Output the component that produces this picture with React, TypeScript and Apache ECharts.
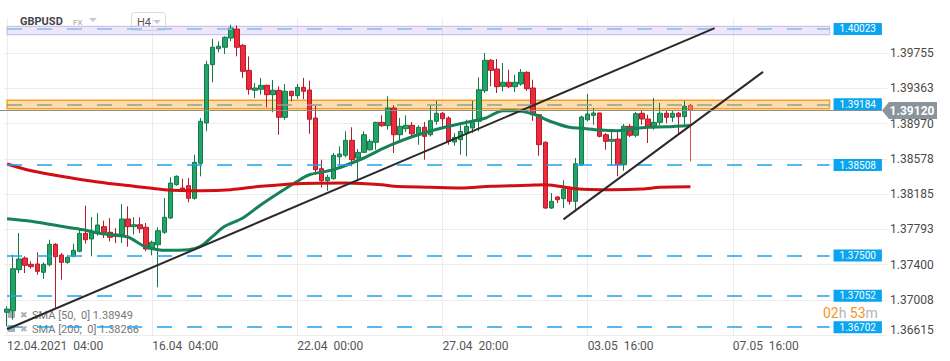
import React, { useEffect, useRef } from 'react';
import * as echarts from 'echarts';

// ---- axis ticks ----
const categoryCount = 146;
const xTickEvery = 24;
const xTickLabels = [
  '12.04.2021\u00a0\u00a004:00',
  '16.04\u00a0\u00a004:00',
  '22.04\u00a0\u00a000:00',
  '27.04\u00a0\u00a020:00',
  '03.05\u00a0\u00a016:00',
  '07.05\u00a0\u00a016:00',
];
const yTickLabels = ['1.36615', '1.37008', '1.37400', '1.37793', '1.38185', '1.38578', '1.38970', '1.39363', '1.39755'];
const yMin = 1.36615;
const yStep = 0.003925;
const yMax = 1.40145;

// ---- candles (H4, GBPUSD) ----
const opens = [
  1.36868, 1.36886, 1.37342, 1.37472, 1.37402, 1.37406, 1.37313, 1.37398, 1.37625, 1.37506,
  1.37424, 1.37491, 1.37547, 1.37747, 1.37684, 1.37751, 1.37821, 1.37759, 1.37740, 1.37732,
  1.37907, 1.37821, 1.37843, 1.37814, 1.37573, 1.37620, 1.37759, 1.37918, 1.38289, 1.38252,
  1.38277, 1.38137, 1.38527, 1.38976, 1.39625, 1.39803, 1.39819, 1.39922, 1.40022, 1.39841,
  1.39562, 1.39340, 1.39351, 1.39395, 1.39291, 1.39340, 1.39039, 1.39329, 1.39280, 1.39373,
  1.39343, 1.39031, 1.38467, 1.38333, 1.38355, 1.38600, 1.38616, 1.38783, 1.38586, 1.38649,
  1.38678, 1.38761, 1.38983, 1.38946, 1.39143, 1.38845, 1.38912, 1.38950, 1.38856, 1.38928,
  1.38845, 1.38995, 1.39084, 1.39031, 1.38764, 1.38790, 1.38864, 1.38920, 1.38995, 1.39335,
  1.39674, 1.39577, 1.39384, 1.39429, 1.39380, 1.39410, 1.39540, 1.39365, 1.39068, 1.38761,
  1.38029, 1.38152, 1.38133, 1.38252, 1.38104, 1.38511, 1.39012, 1.39061, 1.39087, 1.38845,
  1.38772, 1.38797, 1.38511, 1.38939, 1.38839, 1.39084, 1.39020, 1.38939, 1.38983, 1.39084,
  1.39039, 1.39084, 1.39046, 1.39173,
];
const closes = [
  1.36904, 1.37353, 1.37461, 1.37391, 1.37376, 1.37324, 1.37402, 1.37625, 1.37487, 1.37424,
  1.37480, 1.37558, 1.37747, 1.37676, 1.37770, 1.37840, 1.37759, 1.37703, 1.37714, 1.37907,
  1.37821, 1.37843, 1.37799, 1.37573, 1.37647, 1.37776, 1.37926, 1.38307, 1.38382, 1.38222,
  1.38137, 1.38538, 1.38995, 1.39625, 1.39819, 1.39830, 1.39930, 1.40033, 1.39819, 1.39551,
  1.39351, 1.39365, 1.39395, 1.39291, 1.39340, 1.39039, 1.39329, 1.39280, 1.39373, 1.39329,
  1.39017, 1.38456, 1.38333, 1.38371, 1.38616, 1.38630, 1.38783, 1.38567, 1.38649, 1.38845,
  1.38772, 1.38983, 1.38946, 1.39143, 1.38845, 1.38939, 1.38950, 1.38856, 1.38928, 1.38827,
  1.39001, 1.39084, 1.39023, 1.38772, 1.38816, 1.38883, 1.38939, 1.38995, 1.39346, 1.39674,
  1.39562, 1.39380, 1.39429, 1.39380, 1.39429, 1.39540, 1.39358, 1.39068, 1.38734, 1.38029,
  1.38104, 1.38122, 1.38241, 1.38104, 1.38522, 1.39042, 1.39076, 1.39087, 1.38827, 1.38772,
  1.38794, 1.38511, 1.38939, 1.38839, 1.39079, 1.39020, 1.38939, 1.38983, 1.39084, 1.39039,
  1.39084, 1.39046, 1.39162, 1.39120,
];
const lows = [
  1.36712, 1.36785, 1.37305, 1.37305, 1.37353, 1.37286, 1.37239, 1.37380, 1.36916, 1.37231,
  1.37409, 1.37480, 1.37536, 1.37636, 1.37491, 1.37721, 1.37695, 1.37658, 1.37639, 1.37639,
  1.37598, 1.37732, 1.37751, 1.37547, 1.37502, 1.37146, 1.37740, 1.37907, 1.38277, 1.38207,
  1.38093, 1.38122, 1.38382, 1.38883, 1.39429, 1.39763, 1.39744, 1.39885, 1.39718, 1.39477,
  1.39291, 1.39254, 1.39291, 1.39150, 1.39095, 1.38845, 1.39012, 1.39217, 1.39243, 1.39243,
  1.38856, 1.38400, 1.38260, 1.38222, 1.38344, 1.38511, 1.38594, 1.38493, 1.38326, 1.38642,
  1.38667, 1.38678, 1.38934, 1.38901, 1.38642, 1.38772, 1.38875, 1.38820, 1.38734, 1.38567,
  1.38827, 1.38957, 1.38920, 1.38734, 1.38723, 1.38623, 1.38605, 1.38864, 1.38883, 1.39310,
  1.39384, 1.39310, 1.39329, 1.39365, 1.39321, 1.39391, 1.39335, 1.39001, 1.38611, 1.38018,
  1.38018, 1.38085, 1.38029, 1.38066, 1.37992, 1.38500, 1.38995, 1.38957, 1.38816, 1.38678,
  1.38500, 1.38382, 1.38444, 1.38820, 1.38816, 1.38957, 1.38753, 1.38901, 1.38950, 1.38972,
  1.38987, 1.38864, 1.38957, 1.38549,
];
const highs = [
  1.36935, 1.37509, 1.37751, 1.37491, 1.37436, 1.37536, 1.37424, 1.37676, 1.37639, 1.37528,
  1.37502, 1.37632, 1.37806, 1.38055, 1.37929, 1.37973, 1.37888, 1.37918, 1.37806, 1.38074,
  1.38048, 1.37926, 1.37926, 1.37862, 1.37665, 1.37814, 1.38140, 1.38371, 1.38393, 1.38355,
  1.38363, 1.38623, 1.39031, 1.39669, 1.39914, 1.39885, 1.39941, 1.40070, 1.40063, 1.39855,
  1.39718, 1.39421, 1.39477, 1.39402, 1.39454, 1.39384, 1.39410, 1.39335, 1.39410, 1.39477,
  1.39447, 1.39173, 1.38567, 1.38400, 1.38642, 1.38716, 1.38883, 1.38928, 1.38686, 1.38883,
  1.38797, 1.38990, 1.39061, 1.39273, 1.39173, 1.39031, 1.39061, 1.38987, 1.38950, 1.38987,
  1.39173, 1.39224, 1.39098, 1.39050, 1.38864, 1.38950, 1.39012, 1.39224, 1.39484, 1.39755,
  1.39688, 1.39688, 1.39644, 1.39569, 1.39513, 1.39577, 1.39551, 1.39458, 1.39076, 1.38772,
  1.38196, 1.38159, 1.38338, 1.38271, 1.38586, 1.39057, 1.39298, 1.39143, 1.39090, 1.38864,
  1.38901, 1.38901, 1.38964, 1.38964, 1.39098, 1.39113, 1.39068, 1.39254, 1.39198, 1.39120,
  1.39113, 1.39098, 1.39224, 1.39187,
];

// ---- moving averages ----
const sma50Index = [0, 4, 10, 13, 15, 18, 20, 22, 23, 25, 26, 30, 32, 34, 36, 39, 42, 48, 50, 54, 59, 62, 64, 68, 73, 79, 82, 84, 87, 90, 93, 95, 98, 101, 104, 106, 109, 113];
const sma50Values = [1.3791, 1.37881, 1.37814, 1.37781, 1.37751, 1.37725, 1.37706, 1.37628, 1.37592, 1.37565, 1.37558, 1.37565, 1.37603, 1.37714, 1.37825, 1.37918, 1.38066, 1.38326, 1.384, 1.38456, 1.38586, 1.38687, 1.38747, 1.38845, 1.38939, 1.39028, 1.39113, 1.39113, 1.39076, 1.3899, 1.38928, 1.38917, 1.38898, 1.3889, 1.38917, 1.38928, 1.38934, 1.38949];
const sma200Index = [0, 4, 10, 15, 21, 26, 32, 37, 42, 48, 56, 62, 64, 70, 75, 80, 86, 89, 94, 100, 105, 108, 113];
const sma200Values = [1.38519, 1.38444, 1.38371, 1.38319, 1.38271, 1.38233, 1.38222, 1.38233, 1.38271, 1.383, 1.38307, 1.38289, 1.38271, 1.3826, 1.38252, 1.38271, 1.38282, 1.38289, 1.38244, 1.38233, 1.38241, 1.3826, 1.38266];

// ---- drawings ----
const trendLineA = [[0, 1.36679], [117, 1.40032]];
const trendLineB = [[92, 1.37902], [125, 1.39545]];
const levelValues = [1.40023, 1.39184, 1.38508, 1.375, 1.37052, 1.36702];
const levelColors = ['#86b9ec', '#93a08e', '#1ea4ee', '#1ea4ee', '#1ea4ee', '#1ea4ee'];
const levelEndIndex = 136;
const purpleBand = [1.40052, 1.39959];
const orangeBand = [1.39228, 1.39135];
const lastPrice = 1.3912;
const smaLegend = ['SMA [50,\u00a0\u00a00] 1.38949', 'SMA [200,\u00a0\u00a00] 1.38266'];

const FONT = 'Roboto';

const baseGraphics: any[] = [
  { type: 'text', x: 20, y: 21, style: { text: 'GBPUSD', fill: '#454545', font: 'bold 11px Roboto', verticalAlign: 'middle' } },
  { type: 'text', x: 73, y: 22, style: { text: 'FX', fill: '#a0a0a0', font: '8px Roboto', verticalAlign: 'middle' } },
  { type: 'polygon', shape: { points: [[89, 18], [97, 18], [93, 22]] }, style: { fill: '#c8c8c8' } },
  { type: 'rect', shape: { x: 131.5, y: 12.5, width: 34, height: 18, r: 3 }, style: { fill: 'rgba(255,255,255,0.5)', stroke: '#dcdcdc', lineWidth: 1 } },
  { type: 'text', x: 137, y: 22, style: { text: 'H4', fill: '#555555', font: '11px Roboto', verticalAlign: 'middle' } },
  { type: 'polygon', shape: { points: [[153, 20], [161, 20], [157, 24]] }, style: { fill: '#c8c8c8' } },
  { type: 'rect', shape: { x: 7, y: 311, width: 8, height: 7 }, style: { fill: '#a9b0b3' } },
  { type: 'text', x: 20, y: 315, style: { text: '\u2716', fill: '#b0b0b0', font: '9px "DejaVu Sans"', verticalAlign: 'middle' } },
  { type: 'text', x: 32, y: 315, style: { text: smaLegend[0], fill: '#777777', font: '11px Roboto', verticalAlign: 'middle' } },
  { type: 'rect', shape: { x: 7, y: 325, width: 8, height: 7 }, style: { fill: '#a9b0b3' } },
  { type: 'text', x: 20, y: 329, style: { text: '\u2716', fill: '#b0b0b0', font: '9px "DejaVu Sans"', verticalAlign: 'middle' } },
  { type: 'text', x: 32, y: 329, style: { text: smaLegend[1], fill: '#777777', font: '11px Roboto', verticalAlign: 'middle' } },
  {
    type: 'text',
    x: 823,
    y: 313,
    style: {
      text: '{o|02}{g|h} {o|53}{g|m}',
      verticalAlign: 'middle',
      rich: {
        o: { fill: '#f7931e', fontSize: 14, fontFamily: FONT },
        g: { fill: '#b4b4b4', fontSize: 14, fontFamily: FONT },
      },
    },
  },
];

function buildOption() {
  const categories = Array.from({ length: categoryCount }, (_, i) => String(i));
  const candleData = opens.map((o, i) => {
    const item: any = { value: [o, closes[i], lows[i], highs[i]] };
    if (i === opens.length - 1) {
      item.itemStyle = { color0: '#f7735c', borderColor0: '#e0503a', color: '#f7735c', borderColor: '#e0503a' };
    }
    return item;
  });
  const isTick = (idx: number) => idx % xTickEvery === 0 && idx / xTickEvery < xTickLabels.length;

  const levelLines = levelValues.map((v, i) => [
    {
      coord: [0, v],
      lineStyle: { color: levelColors[i], type: [15, 15], width: 1.5 },
      label: {
        show: true,
        position: 'end',
        distance: 4,
        formatter: v.toFixed(5),
        color: '#ffffff',
        backgroundColor: '#0aa5ef',
        padding: [1, 6, 1, 6],
        fontSize: 10,
        fontFamily: FONT,
      },
    },
    { coord: [levelEndIndex, v] },
  ]);
  const trendLines = [trendLineA, trendLineB].map((t) => [
    { coord: t[0], lineStyle: { color: '#2a2a2a', width: 2, type: 'solid' }, label: { show: false } },
    { coord: t[1] },
  ]);

  const splitColors = yTickLabels.map(() => '#ececec').concat(['rgba(0,0,0,0)']);

  return {
    animation: false,
    textStyle: { fontFamily: FONT },
    grid: { left: 4, right: 63, top: 18, bottom: 26 },
    xAxis: {
      type: 'category',
      data: categories,
      boundaryGap: true,
      axisLine: { show: false },
      axisTick: { show: false },
      axisLabel: {
        interval: (idx: number) => isTick(idx),
        formatter: (val: string) => xTickLabels[Number(val) / xTickEvery] || '',
        align: 'left',
        margin: 5,
        color: '#555555',
        fontSize: 12,
        fontFamily: FONT,
      },
      splitLine: {
        show: true,
        interval: (idx: number) => isTick(idx),
        alignWithLabel: true,
        lineStyle: { color: '#ececec', width: 1 },
      },
    },
    yAxis: {
      type: 'value',
      position: 'right',
      min: yMin,
      max: yMax,
      interval: yStep,
      axisLine: { show: false },
      axisTick: { show: false },
      axisLabel: {
        margin: 3,
        color: '#4a4a4a',
        fontSize: 12,
        fontFamily: FONT,
        formatter: (v: number) => {
          const i = Math.round((v - yMin) / yStep);
          if (i < 0 || i >= yTickLabels.length || Math.abs(v - (yMin + i * yStep)) > 1e-6) return '';
          return i === 0 ? '{low|' + yTickLabels[0] + '}' : yTickLabels[i];
        },
        rich: { low: { padding: [0, 0, 10, 0], color: '#4a4a4a', fontSize: 12, fontFamily: FONT } },
      },
      splitLine: { show: true, lineStyle: { color: splitColors, width: 1 } },
    },
    series: [
      {
        type: 'candlestick',
        data: candleData,
        barWidth: 5,
        itemStyle: {
          color: '#22a368',
          color0: '#ee2a3d',
          borderColor: '#16794a',
          borderColor0: '#b51b2b',
          borderWidth: 1,
        },
        markArea: {
          silent: true,
          data: [
            [
              { coord: [-0.5, purpleBand[0]], itemStyle: { color: 'rgba(200,184,236,0.32)', borderColor: '#cfc0ee', borderWidth: 1.2 } },
              { coord: [levelEndIndex, purpleBand[1]] },
            ],
            [
              { coord: [-0.5, orangeBand[0]], itemStyle: { color: 'rgba(253,186,95,0.5)', borderColor: '#f6a21e', borderWidth: 1.5 } },
              { coord: [levelEndIndex, orangeBand[1]] },
            ],
          ],
        },
        markLine: {
          silent: true,
          symbol: ['none', 'none'],
          data: [...levelLines, ...trendLines],
        },
      },
      {
        type: 'line',
        name: 'SMA50',
        data: sma50Index.map((k, i) => [k, sma50Values[i]]),
        smooth: 0.3,
        symbol: 'none',
        lineStyle: { color: '#158257', width: 3 },
        z: 3,
      },
      {
        type: 'line',
        name: 'SMA200',
        data: sma200Index.map((k, i) => [k, sma200Values[i]]),
        smooth: 0.3,
        symbol: 'none',
        lineStyle: { color: '#d10f12', width: 3 },
        z: 3,
      },
    ],
    graphic: baseGraphics,
  };
}

export default function App() {
  const ref = useRef<HTMLDivElement>(null);
  useEffect(() => {
    const chart = echarts.init(ref.current as HTMLDivElement, null, { renderer: 'svg' });
    chart.setOption(buildOption() as any);
    // current price line and tag placed through the y-axis scale
    const py = Math.round(chart.convertToPixel({ yAxisIndex: 0 }, lastPrice) as number) + 0.5;
    const tipX = 882;
    const tag = [
      {
        type: 'line',
        shape: { x1: 0, y1: py, x2: tipX, y2: py },
        style: { stroke: '#8e8e8e', lineWidth: 1 },
        z: 9,
      },
      {
        type: 'polygon',
        shape: { points: [[tipX, py], [tipX + 7, py - 8.5], [tipX + 55, py - 8.5], [tipX + 55, py + 8.5], [tipX + 7, py + 8.5]] },
        style: { fill: '#8b949a' },
        z: 10,
      },
      {
        type: 'text',
        x: tipX + 30,
        y: py,
        style: { text: lastPrice.toFixed(5), fill: '#ffffff', font: 'bold 12px Roboto', align: 'center', verticalAlign: 'middle' },
        z: 11,
      },
    ];
    chart.setOption({ graphic: [...baseGraphics, ...tag] } as any);
    return () => chart.dispose();
  }, []);
  return <div ref={ref} style={{ position: 'absolute', left: 0, top: 0, width: 950, height: 361 }} />;
}
